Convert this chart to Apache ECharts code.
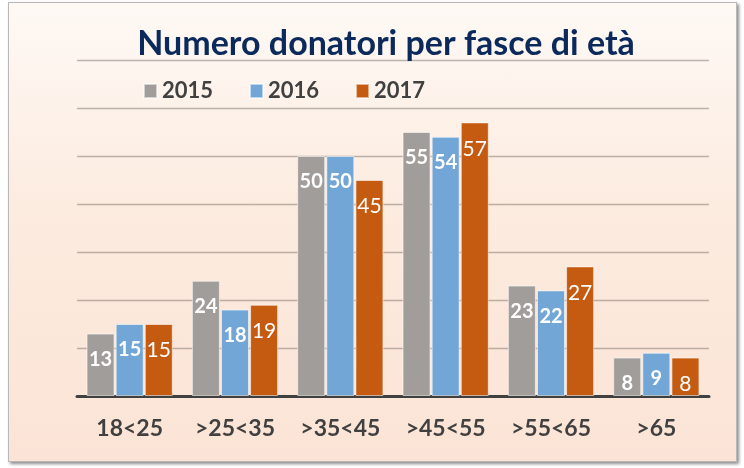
<!DOCTYPE html>
<html>
<head>
<meta charset="utf-8">
<script src="https://cdn.jsdelivr.net/npm/echarts@6/dist/echarts.min.js"></script>
<style>
  html, body { margin: 0; padding: 0; background: #ffffff; }
  #frame {
    position: absolute; left: 8px; top: 2px; width: 727px; height: 458px;
    border: 1px solid #b8b8b8;
    box-shadow: 2px 2px 3px rgba(0, 0, 0, 0.45);
    background: linear-gradient(to bottom, #fef9f5 0%, #fcebdf 45%, #fbe4d6 100%);
  }
  #chart { position: absolute; left: 0; top: 0; width: 744px; height: 468px; }
</style>
</head>
<body>
<div id="frame"></div>
<div id="chart"></div>
<script>
const categories = ['18<25', '>25<35', '>35<45', '>45<55', '>55<65', '>65'];
const years = ['2015', '2016', '2017'];
const values2015 = [13, 24, 50, 55, 23, 8];
const values2016 = [15, 18, 50, 54, 22, 9];
const values2017 = [15, 19, 45, 57, 27, 8];
const yTicks = [0, 10, 20, 30, 40, 50, 60, 70];

const colors = ['#a19d9a', '#71a6d6', '#c55a11'];
const font = 'Lato, "Open Sans", sans-serif';

function barSeries(name, data, color, bold) {
    return {
        name: name,
        type: 'bar',
        data: data,
        barWidth: 28,
        barGap: '4%',
        itemStyle: {
            color: color,
            borderColor: 'rgba(255,255,255,0.55)',
            borderWidth: 1
        },
        label: {
            show: true,
            position: 'insideTop',
            distance: 16,
            color: '#ffffff',
            fontFamily: font,
            fontSize: bold ? 20 : 21,
            fontWeight: bold ? 'bold' : 'normal'
        }
    };
}

const chart = echarts.init(document.getElementById('chart'));
chart.setOption({
    backgroundColor: 'transparent',
    animation: false,
    title: {
        text: 'Numero donatori per fasce di età',
        left: 386,
        top: 27,
        textAlign: 'center',
        padding: 0,
        textStyle: {
            color: '#0b295b',
            fontFamily: font,
            fontSize: 34,
            fontWeight: 'bold'
        }
    },
    legend: {
        data: years,
        left: 138,
        top: 75,
        icon: 'rect',
        itemWidth: 13,
        itemHeight: 14,
        itemGap: 36,
        textStyle: {
            color: '#404040',
            fontFamily: font,
            fontSize: 22,
            fontWeight: 'bold'
        }
    },
    grid: { left: 77, right: 35, top: 60, bottom: 72 },
    xAxis: {
        type: 'category',
        data: categories,
        axisLine: { lineStyle: { color: '#404040', width: 3 } },
        axisTick: { show: false },
        axisLabel: {
            margin: 21,
            color: '#404040',
            fontFamily: font,
            fontSize: 23,
            fontWeight: 'bold'
        }
    },
    yAxis: {
        type: 'value',
        min: yTicks[0],
        max: yTicks[yTicks.length - 1],
        interval: 10,
        axisLabel: { show: false },
        axisLine: { show: false },
        axisTick: { show: false },
        splitLine: { lineStyle: { color: 'rgba(110,100,92,0.45)', width: 1.3 } }
    },
    series: [
        barSeries(years[0], values2015, colors[0], true),
        barSeries(years[1], values2016, colors[1], true),
        barSeries(years[2], values2017, colors[2], false)
    ]
});
</script>
</body>
</html>
